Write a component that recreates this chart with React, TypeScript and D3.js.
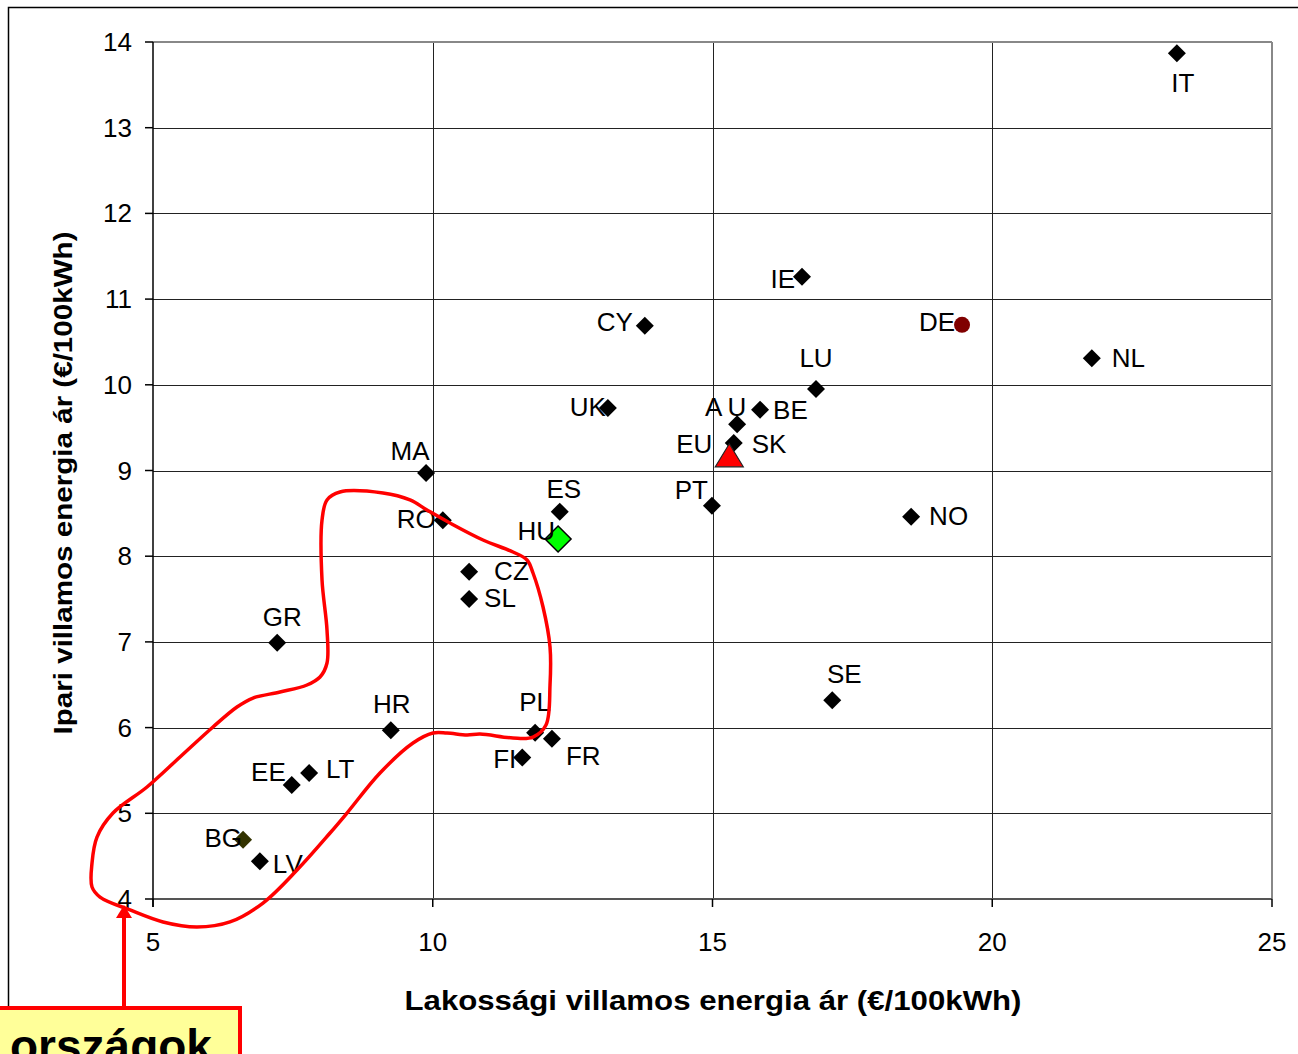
import React from "react";
import * as d3 from "d3";

const countries = ["IT","IE","CY","DE","NL","LU","UK","AU","BE","SK","EU","MA","ES","RO","PT","NO","HU","CZ","SL","GR","SE","HR","PL","FR","FI","LT","EE","BG","LV"];
const residential = [23.30,16.60,13.79,19.46,21.78,16.85,13.13,15.44,15.85,15.38,15.30,9.88,12.27,10.18,14.99,18.55,12.24,10.65,10.65,7.22,17.14,9.25,11.83,12.13,11.60,7.79,7.48,6.61,6.91];
const industrial = [13.87,11.26,10.69,10.70,10.31,9.95,9.73,9.54,9.71,9.32,9.16,8.97,8.52,8.42,8.59,8.46,8.20,7.82,7.50,6.99,6.32,5.97,5.94,5.87,5.65,5.47,5.33,4.69,4.44];
const markerKind = ["d","d","d","circle","d","d","d","d","d","d","tri","d","d","d","d","d","hu","d","d","d","d","d","d","d","d","d","d","bg","d"];

const xTicks = [5,10,15,20,25];
const yTicks = [4,5,6,7,8,9,10,11,12,13,14];

// label placement: [dx, dy, anchor]
const labelPlace: [number, number, string][] = [
  [6,39,"middle"],[-7,11,"end"],[-12,5,"end"],[-7,6,"end"],[20,9,"start"],[0,-22,"middle"],
  [-2,8,"end"],[-9,-8,"middle"],[13,9,"start"],[18,10,"start"],[-17,-4,"end"],[-16,-13,"middle"],
  [4,-14,"middle"],[-7,8,"end"],[-4,-7,"end"],[18,8,"start"],[-3,1,"end"],[25,8,"start"],
  [15,8,"start"],[5,-17,"middle"],[12,-17,"middle"],[1,-17,"middle"],[0,-22,"middle"],
  [14,26,"start"],[-6,10,"end"],[17,5,"start"],[-6,-4,"end"],[-1,7,"end"],[13,12,"start"]
];

// hand-drawn annotation loop, in data units
const loopX = [8.342,9.111,9.593,9.897,10.308,10.898,11.434,11.685,11.792,11.971,12.096,12.096,12.024,11.792,11.434,10.845,10.612,10.255,10.004,9.647,9.057,8.467,8.164,7.574,6.966,6.376,5.786,5.179,4.589,4.053,3.910,3.910,3.999,4.285,4.893,5.483,6.072,6.501,6.787,7.270,7.752,7.985,8.110,8.110,8.021,8.021,8.110];
const loopY = [8.749,8.737,8.656,8.539,8.387,8.189,8.049,7.956,7.804,7.407,6.940,6.497,6.030,5.890,5.879,5.925,5.914,5.937,5.937,5.820,5.470,5.003,4.770,4.338,3.953,3.732,3.673,3.732,3.872,4.023,4.140,4.420,4.723,5.003,5.307,5.657,6.007,6.240,6.345,6.415,6.497,6.590,6.754,7.139,7.722,8.422,8.656];

const W = 1298, H = 1054;
const left = 153, right = 1272, top = 42, bottom = 899;
const FONT = "'Liberation Sans', Arial, sans-serif";

export default function App() {
  const x = d3.scaleLinear().domain([5, 25]).range([left, right]);
  const y = d3.scaleLinear().domain([4, 14]).range([bottom, top]);
  const loopPts: [number, number][] = loopX.map((v, i) => [x(v), y(loopY[i])]);
  const loopPath = d3.line().curve(d3.curveCatmullRomClosed.alpha(0.5))(loopPts) || "";

  const diamond = (cx: number, cy: number, r: number) =>
    `M${cx},${cy - r}L${cx + r},${cy}L${cx},${cy + r}L${cx - r},${cy}Z`;

  return (
    <svg width={W} height={H} style={{ position: "absolute", left: 0, top: 0, background: "#fff" }} fontFamily={FONT}>
      <rect x={8.5} y={7.5} width={1300} height={1100} fill="none" stroke="#000" strokeWidth={1.5} />
      {/* gridlines */}
      {yTicks.slice(1, -1).map(t => (
        <line key={"gy" + t} x1={left} x2={right} y1={Math.round(y(t)) + 0.5} y2={Math.round(y(t)) + 0.5} stroke="#222" strokeWidth={1} />
      ))}
      {xTicks.slice(1, -1).map(t => (
        <line key={"gx" + t} y1={top} y2={bottom} x1={Math.round(x(t)) + 0.5} x2={Math.round(x(t)) + 0.5} stroke="#222" strokeWidth={1} />
      ))}
      {/* plot border top/right */}
      <line x1={left} x2={right} y1={top} y2={top} stroke="#888" strokeWidth={2} />
      <line x1={right} x2={right} y1={top} y2={bottom} stroke="#888" strokeWidth={2} />
      {/* axes */}
      <line x1={left} x2={right} y1={bottom} y2={bottom} stroke="#555" strokeWidth={2} />
      <line x1={left} x2={left} y1={top} y2={bottom + 8} stroke="#000" strokeWidth={1.5} />
      {yTicks.map(t => (
        <g key={"yt" + t}>
          <line x1={left - 8} x2={left} y1={y(t)} y2={y(t)} stroke="#000" strokeWidth={1.5} />
          <text x={132} y={y(t) + 9} fontSize={26} textAnchor="end" fill="#000">{t}</text>
        </g>
      ))}
      {xTicks.map(t => (
        <g key={"xt" + t}>
          <line x1={x(t)} x2={x(t)} y1={bottom} y2={bottom + 8} stroke="#000" strokeWidth={1.5} />
          <text x={x(t)} y={951} fontSize={26} textAnchor="middle" fill="#000">{t}</text>
        </g>
      ))}
      {/* axis titles */}
      <text x={713} y={1010} fontSize={27} fontWeight="bold" textAnchor="middle" textLength={617} lengthAdjust="spacingAndGlyphs">Lakossági villamos energia ár (€/100kWh)</text>
      <text transform={`translate(72,483) rotate(-90)`} fontSize={25} fontWeight="bold" textAnchor="middle" textLength={503} lengthAdjust="spacingAndGlyphs">Ipari villamos energia ár (€/100kWh)</text>

      {/* points */}
      {countries.map((c, i) => {
        const cx = x(residential[i]), cy = y(industrial[i]);
        const k = markerKind[i];
        if (k === "circle") return <circle key={c} cx={cx} cy={cy} r={8} fill="#800000" />;
        if (k === "tri") return <path key={c} d={`M${cx},${cy - 13}L${cx + 14},${cy + 10}L${cx - 14},${cy + 10}Z`} fill="#ff0000" stroke="#222" strokeWidth={1.2} />;
        if (k === "hu") return <path key={c} d={diamond(cx, cy, 13)} fill="#00ff00" stroke="#000" strokeWidth={1.5} />;
        if (k === "bg") return <path key={c} d={diamond(cx, cy, 9)} fill="#333300" />;
        return <path key={c} d={diamond(cx, cy, 9)} fill="#000" />;
      })}
      {/* labels */}
      {countries.map((c, i) => {
        const [dx, dy, anchor] = labelPlace[i];
        return (
          <text key={"l" + c} x={x(residential[i]) + dx} y={y(industrial[i]) + dy} fontSize={26} textAnchor={anchor as any} fill="#000" letterSpacing={c === "AU" ? 5 : 0}>{c}</text>
        );
      })}

      {/* annotation loop */}
      <path d={loopPath} fill="none" stroke="#ff0000" strokeWidth={3.5} />
      {/* arrow */}
      <line x1={124} x2={124} y1={1006} y2={915} stroke="#ff0000" strokeWidth={4} />
      <path d="M124,905L132,918L116,918Z" fill="#ff0000" />
      {/* callout box */}
      <rect x={-10} y={1008} width={250} height={80} fill="#ffff99" stroke="#ff0000" strokeWidth={4} />
      <text x={10} y={1062} fontSize={46} fontWeight="bold" fill="#000">országok</text>
    </svg>
  );
}
